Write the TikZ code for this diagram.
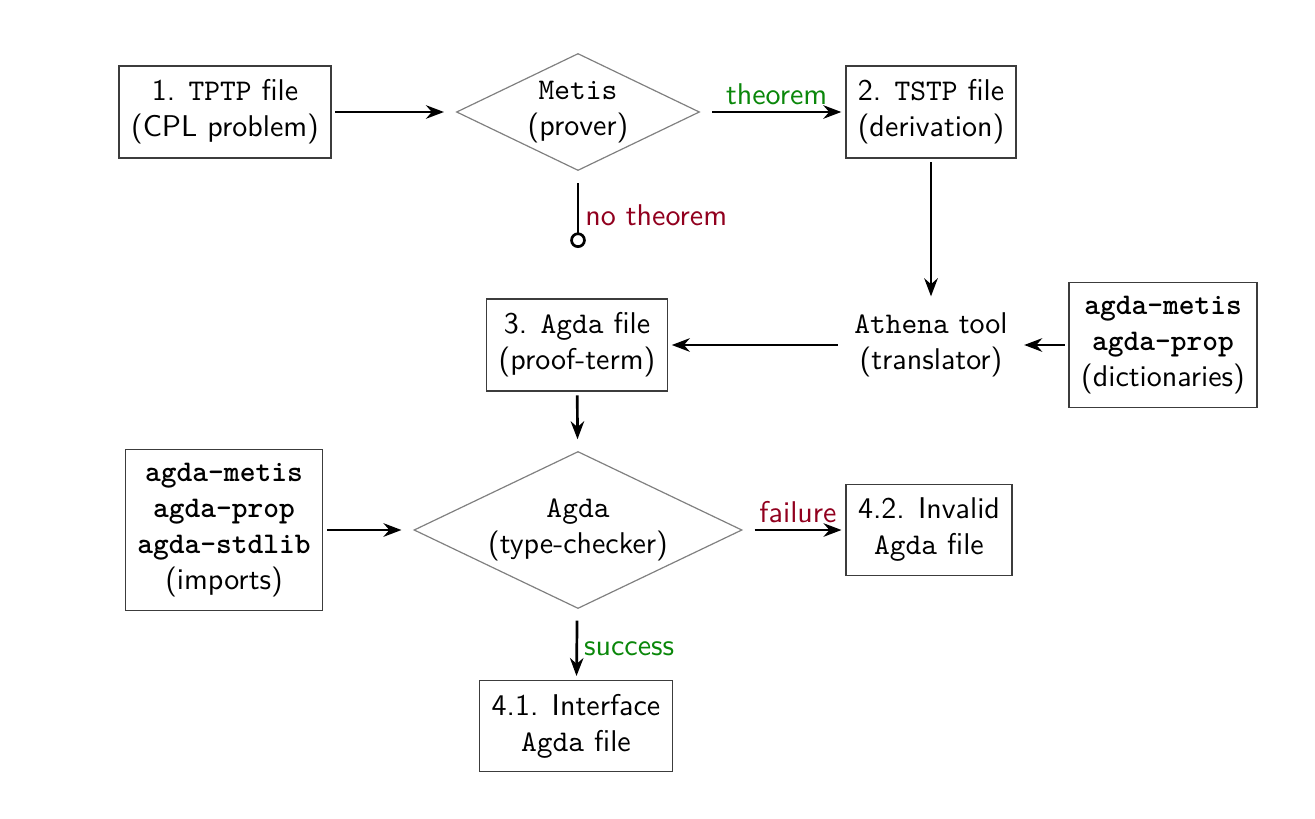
\documentclass[tikz,border=0pt]{standalone}
\usetikzlibrary{shapes.geometric,arrows.meta}
\definecolor{okgreen}{RGB}{10,135,10}
\definecolor{badred}{RGB}{145,0,30}
\definecolor{boxgray}{RGB}{60,60,60}
\begin{document}
\begin{tikzpicture}[x=0.3333pt,y=-0.3333pt,font=\sffamily,
  box/.style={draw=boxgray,line width=0.5pt,align=center,inner xsep=4pt,inner ysep=4.5pt,outer sep=1.5pt},
  dec/.style={draw=gray,line width=0.4pt,diamond,align=center,inner sep=0pt,outer sep=3pt},
  plain/.style={align=center,inner sep=4pt,outer sep=1.5pt},
  arr/.style={line width=0.9pt,-{Stealth[length=6pt,width=4.5pt]}},
  lab/.style={font=\sffamily,inner sep=2pt}]
\useasboundingbox (0,0) rectangle (1315,818);
\node[box] (tptp) at (225,112) {1. \texttt{TPTP} file\\(CPL problem)};
\node[dec,aspect=2.04,minimum width=250*0.3333pt,minimum height=124*0.3333pt] (metis) at (578,112) {\texttt{Metis}\\(prover)};
\node[box] (tstp) at (931,112) {2. \texttt{TSTP} file\\(derivation)};
\coordinate (nt) at (578,248);
\node[plain] (athena) at (931,345) {\texttt{Athena} tool\\(translator)};
\node[box] (dict) at (1163,345) {\texttt{\bfseries agda-metis}\\\texttt{\bfseries agda-prop}\\(dictionaries)};
\node[box] (agdafile) at (577,345) {3. \texttt{Agda} file\\(proof-term)};
\node[dec,aspect=2.05,minimum width=335*0.3333pt,minimum height=164*0.3333pt] (agda) at (578,530) {\texttt{Agda}\\(type-checker)};
\node[box] (imports) at (224,530) {\texttt{\bfseries agda-metis}\\\texttt{\bfseries agda-prop}\\\texttt{\bfseries agda-stdlib}\\(imports)};
\node[box] (invalid) at (929,530) {4.2. Invalid\\\texttt{Agda} file};
\node[box] (iface) at (576,726) {4.1. Interface\\\texttt{Agda} file};

\draw[arr] (tptp) -- (metis);
\draw[arr] (metis) -- node[lab,above,text=okgreen] {theorem} (tstp);
\draw[line width=0.9pt,-{Circle[open,length=5.2pt,line width=0.9pt]}] (metis) -- node[lab,right,text=badred] {no theorem} (nt);
\draw[arr] (tstp) -- (athena);
\draw[arr] (dict) -- (athena);
\draw[arr] (athena) -- (agdafile);
\draw[arr] (agdafile) -- (agda);
\draw[arr] (imports) -- (agda);
\draw[arr] (agda) -- node[lab,above,text=badred] {failure} (invalid);
\draw[arr] (agda) -- node[lab,right,text=okgreen] {success} (iface);
\end{tikzpicture}
\end{document}
